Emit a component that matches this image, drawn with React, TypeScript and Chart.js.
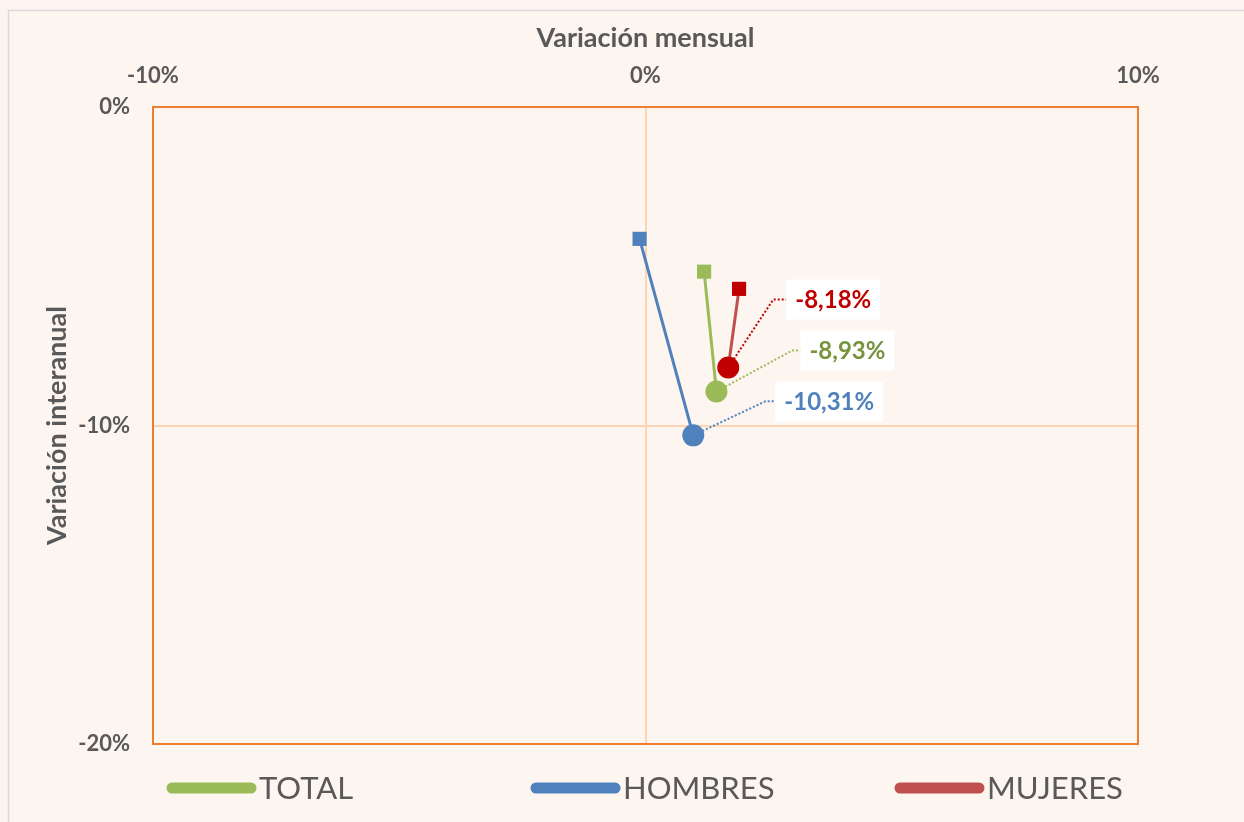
import React, { useEffect, useRef } from 'react';
import { Chart, registerables } from 'chart.js';

Chart.register(...registerables);

// ---- data ----
const SERIES = ['TOTAL', 'HOMBRES', 'MUJERES'];
// each series: [previous point (square), current point (circle)]
const TOTAL_X = [1.19, 1.44];
const TOTAL_Y = [-5.17, -8.93];
const HOMBRES_X = [-0.12, 0.97];
const HOMBRES_Y = [-4.14, -10.31];
const MUJERES_X = [1.9, 1.68];
const MUJERES_Y = [-5.71, -8.18];
const X_TICKS = [-10, 0, 10];
const Y_TICKS = [-20, -10, 0];
const X_TITLE = 'Variación mensual';
const Y_TITLE = 'Variación interanual';

// ---- styles ----
const LINE_COLORS = ['#9bbb59', '#4f81bd', '#c0504d'];
const MARKER_COLORS = ['#9bbb59', '#4f81bd', '#c00000'];
const LABEL_COLORS = ['#77933c', '#4f81bd', '#c00000'];
const LEADER_COLORS = ['#9bbb59', '#4f81bd', '#c00000'];
// label box offset from circle (left-middle of box), elbow distance
const LABEL_OFFSETS = [
  { dx: 84, dy: -41, elbow: 8 },
  { dx: 82, dy: -34, elbow: 10 },
  { dx: 58, dy: -68, elbow: 13 },
];
const FONT = 'Lato, "Open Sans", sans-serif';
const TEXT_GRAY = '#595959';

const fmt = (v: number) => v.toFixed(2).replace('.', ',') + '%';

const bgPlugin = {
  id: 'bgFrame',
  beforeDraw(chart: any) {
    const { ctx, width, height } = chart;
    ctx.save();
    ctx.fillStyle = '#fdf4f2';
    ctx.fillRect(0, 0, width, height);
    ctx.fillStyle = '#fdf5f0';
    ctx.fillRect(8.5, 10.5, width, height);
    ctx.strokeStyle = '#d9d9d9';
    ctx.lineWidth = 1.5;
    ctx.strokeRect(8.5, 10.5, width + 20, height + 20);
    ctx.restore();
  },
};

const borderPlugin = {
  id: 'plotBorder',
  beforeDatasetsDraw(chart: any) {
    const { ctx, chartArea } = chart;
    ctx.save();
    ctx.strokeStyle = '#ed7d31';
    ctx.lineWidth = 2;
    ctx.strokeRect(chartArea.left, chartArea.top, chartArea.right - chartArea.left, chartArea.bottom - chartArea.top);
    ctx.restore();
  },
};

const labelPlugin = {
  id: 'pointLabels',
  afterDatasetsDraw(chart: any) {
    const { ctx } = chart;
    chart.data.datasets.forEach((ds: any, i: number) => {
      const meta = chart.getDatasetMeta(i);
      const idx = ds.data.length - 1;
      const el = meta.data[idx];
      const v = ds.data[idx].y;
      const off = LABEL_OFFSETS[i];
      const bx = el.x + off.dx;
      const by = el.y + off.dy;
      const ex = bx - off.elbow;
      // leader line
      const ang = Math.atan2(by - el.y, ex - el.x);
      const r = 10;
      ctx.save();
      ctx.strokeStyle = LEADER_COLORS[i];
      ctx.lineWidth = 2;
      ctx.setLineDash([2, 2]);
      ctx.beginPath();
      ctx.moveTo(el.x + r * Math.cos(ang), el.y + r * Math.sin(ang));
      ctx.lineTo(ex, by);
      ctx.lineTo(bx, by);
      ctx.stroke();
      ctx.setLineDash([]);
      // box
      const text = fmt(v);
      ctx.font = `bold 24px ${FONT}`;
      const tw = ctx.measureText(text).width;
      const padX = 9;
      const bh = 40;
      ctx.fillStyle = '#ffffff';
      ctx.fillRect(bx, by - bh / 2, tw + padX * 2, bh);
      ctx.fillStyle = LABEL_COLORS[i];
      ctx.textAlign = 'left';
      ctx.textBaseline = 'middle';
      ctx.fillText(text, bx + padX, by + 1);
      ctx.restore();
    });
  },
};

const legendPlugin = {
  id: 'customLegend',
  afterDraw(chart: any) {
    const { ctx, chartArea } = chart;
    const y = chartArea.bottom + 44;
    const start = chartArea.left + 14;
    const spacing = 364;
    ctx.save();
    SERIES.forEach((name, i) => {
      const x0 = start + i * spacing;
      ctx.strokeStyle = LINE_COLORS[i];
      ctx.lineWidth = 11;
      ctx.lineCap = 'round';
      ctx.beginPath();
      ctx.moveTo(x0 + 5, y);
      ctx.lineTo(x0 + 84, y);
      ctx.stroke();
      ctx.fillStyle = TEXT_GRAY;
      ctx.font = `31px ${FONT}`;
      ctx.textAlign = 'left';
      ctx.textBaseline = 'middle';
      ctx.fillText(name, x0 + 92, y + 1);
    });
    ctx.restore();
  },
};

function toPoints(xs: number[], ys: number[]) {
  return xs.map((x, i) => ({ x, y: ys[i] }));
}

export default function App() {
  const ref = useRef<HTMLCanvasElement | null>(null);
  useEffect(() => {
    if (!ref.current) return;
    const seriesData = [
      toPoints(TOTAL_X, TOTAL_Y),
      toPoints(HOMBRES_X, HOMBRES_Y),
      toPoints(MUJERES_X, MUJERES_Y),
    ];
    const chart = new Chart(ref.current, {
      type: 'scatter',
      data: {
        datasets: SERIES.map((name, i) => ({
          label: name,
          data: seriesData[i],
          showLine: true,
          borderColor: LINE_COLORS[i],
          borderWidth: 3,
          backgroundColor: MARKER_COLORS[i],
          pointBackgroundColor: MARKER_COLORS[i],
          pointBorderColor: MARKER_COLORS[i],
          pointBorderWidth: 0,
          pointStyle: ['rect', 'circle'],
          pointRadius: [10, 11],
          pointHoverRadius: [10, 11],
        })),
      },
      options: {
        responsive: false,
        animation: false,
        events: [],
        layout: { padding: { left: 41, top: 22, right: 106, bottom: 78 } },
        plugins: {
          legend: { display: false },
          tooltip: { enabled: false },
        },
        scales: {
          x: {
            type: 'linear',
            position: 'top',
            min: -10,
            max: 10,
            afterBuildTicks: (s: any) => {
              s.ticks = X_TICKS.map((v) => ({ value: v }));
            },
            afterFit: (s: any) => {
              s.height = 85;
            },
            ticks: {
              padding: 18,
              color: TEXT_GRAY,
              font: { family: FONT, size: 22, weight: 'bold' },
              callback: (v: any) => v + '%',
            },
            grid: {
              drawTicks: false,
              lineWidth: 2,
              color: (c: any) => (c.tick && c.tick.value === 0 ? '#fcd5b4' : 'rgba(0,0,0,0)'),
            },
            border: { display: false },
            title: {
              display: true,
              text: X_TITLE,
              color: TEXT_GRAY,
              padding: 0,
              font: { family: FONT, size: 27, weight: 'bold' },
            },
          },
          y: {
            type: 'linear',
            min: -20,
            max: 0,
            afterBuildTicks: (s: any) => {
              s.ticks = Y_TICKS.map((v) => ({ value: v }));
            },
            afterFit: (s: any) => {
              s.width = 112;
            },
            ticks: {
              padding: 23,
              color: TEXT_GRAY,
              font: { family: FONT, size: 22, weight: 'bold' },
              callback: (v: any) => v + '%',
            },
            grid: {
              drawTicks: false,
              lineWidth: 2,
              color: (c: any) => (c.tick && c.tick.value === -10 ? '#fcd5b4' : 'rgba(0,0,0,0)'),
            },
            border: { display: false },
            title: {
              display: true,
              text: Y_TITLE,
              color: TEXT_GRAY,
              padding: 0,
              font: { family: FONT, size: 27, weight: 'bold' },
            },
          },
        },
      },
      plugins: [bgPlugin, borderPlugin, labelPlugin, legendPlugin],
    } as any);
    return () => chart.destroy();
  }, []);

  return (
    <div style={{ position: 'absolute', left: 0, top: 0, width: 1244, height: 822 }}>
      <canvas ref={ref} width={1244} height={822} style={{ display: 'block' }} />
    </div>
  );
}
